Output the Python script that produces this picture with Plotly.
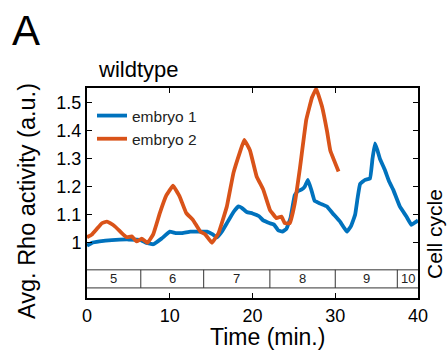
import plotly.graph_objects as go

# ---- data ----
t1 = [0, 0.6, 1.5, 3, 5, 6.5, 7.2, 8, 9, 10, 10.7, 11.5, 12.5, 13.7, 14.5, 15.2, 15.7, 16.3,
      16.9, 17.7, 18.3, 18.7, 19.3, 20, 20.8, 21.3, 22.1, 22.6, 23.1, 23.6, 24.1, 24.6, 25.1,
      25.5, 25.9, 26.3, 26.7, 27.1, 27.5, 28.2, 29, 29.7, 30.6, 31.4, 31.9, 32.4, 32.7, 33,
      33.6, 34.2, 34.5, 34.8, 35.1, 35.4, 36, 36.5, 37, 37.8, 38.6, 39.2, 39.5, 39.8, 40]
v1 = [0.99, 1.0, 1.005, 1.01, 1.012, 1.01, 1.0, 0.995, 1.015, 1.04, 1.035, 1.035, 1.04, 1.04,
      1.04, 1.03, 1.02, 1.04, 1.07, 1.11, 1.13, 1.125, 1.11, 1.105, 1.095, 1.08, 1.07, 1.065,
      1.045, 1.04, 1.05, 1.09, 1.17, 1.185, 1.19, 1.2, 1.225, 1.19, 1.15, 1.14, 1.13, 1.105,
      1.075, 1.04, 1.06, 1.1, 1.16, 1.21, 1.225, 1.23, 1.3, 1.355, 1.33, 1.30, 1.26, 1.22,
      1.19, 1.13, 1.094, 1.064, 1.07, 1.076, 1.08]

t2 = [0, 0.6, 1.2, 1.8, 2.4, 2.8, 3.4, 4.2, 4.8, 5.4, 6.0, 6.6, 7.3, 8.0, 8.8, 9.6, 10.4,
      11.2, 12.0, 12.8, 13.7, 14.3, 15.1, 15.9, 16.9, 17.7, 18.5, 19.0, 19.7, 20.5, 21.3,
      22.1, 22.9, 23.5, 23.9, 24.5, 25.1, 25.7, 26.5, 27.2, 27.7, 28.4, 29.0, 29.4, 30.4]
v2 = [1.02, 1.03, 1.05, 1.07, 1.076, 1.07, 1.058, 1.035, 1.02, 1.023, 1.005, 1.015, 1.0,
      1.03, 1.106, 1.17, 1.204, 1.165, 1.106, 1.082, 1.04, 1.03, 1.0, 1.035, 1.13, 1.25,
      1.326, 1.368, 1.33, 1.237, 1.19, 1.118, 1.088, 1.094, 1.07, 1.07, 1.14, 1.26, 1.44,
      1.52, 1.55, 1.487, 1.40, 1.33, 1.255]

series_names = ["embryo 1", "embryo 2"]
cycle_bounds = [0, 6.5, 14.1, 22.1, 30.0, 37.5, 40]
cycle_labels = ["5", "6", "7", "8", "9", "10"]
x_ticks = [0, 10, 20, 30, 40]
y_ticks = [1, 1.1, 1.2, 1.3, 1.4, 1.5]
y_ticktext = ["1", "1.1", "1.2", "1.3", "1.4", "1.5"]

BLUE = "#0072BD"
ORANGE = "#D95319"
FONT = "Liberation Sans, Arial, sans-serif"
band_top, band_bot = 0.9036, 0.839

fig = go.Figure()
fig.add_trace(go.Scatter(x=t1, y=v1, mode="lines", name=series_names[0],
                         line=dict(color=BLUE, width=3.8, shape="spline", smoothing=0.25)))
fig.add_trace(go.Scatter(x=t2, y=v2, mode="lines", name=series_names[1],
                         line=dict(color=ORANGE, width=3.8, shape="spline", smoothing=0.25)))

shapes = []
for yy in (band_top, band_bot):
    shapes.append(dict(type="line", xref="x", yref="y", x0=cycle_bounds[0], x1=cycle_bounds[-1],
                       y0=yy, y1=yy, line=dict(color="#333333", width=1)))
for b in cycle_bounds[1:-1]:
    shapes.append(dict(type="line", xref="x", yref="y", x0=b, x1=b, y0=band_bot, y1=band_top,
                       line=dict(color="#333333", width=1)))

annotations = []
for i, lab in enumerate(cycle_labels):
    annotations.append(dict(x=(cycle_bounds[i] + cycle_bounds[i + 1]) / 2,
                            y=(band_top + band_bot) / 2, xref="x", yref="y", text=lab,
                            showarrow=False, xanchor="center", yanchor="middle",
                            font=dict(size=13, color="#222", family=FONT)))

def px(x):
    return (x - 87) / 331

def py(y):
    return (298 - y) / 210

def lab(x, y, text, size, angle=0, xanchor="center"):
    return dict(x=px(x), y=py(y), xref="paper", yref="paper", text=text, showarrow=False,
                xanchor=xanchor, yanchor="middle", textangle=angle,
                font=dict(size=size, color="black", family=FONT))

annotations += [
    lab(26, 30, "A", 42),
    lab(96, 69, "wildtype", 22, xanchor="left"),
    lab(27, 201, "Avg. Rho activity (a.u.)", 23.5, angle=-90),
    lab(267, 337, "Time (min.)", 23),
    lab(434, 234, "Cell cycle", 21, angle=-90),
]

fig.update_layout(
    width=447, height=360,
    margin=dict(l=87, r=29, t=88, b=62),
    paper_bgcolor="white", plot_bgcolor="white",
    font=dict(family=FONT, color="black"),
    shapes=shapes, annotations=annotations,
    showlegend=True,
    legend=dict(x=px(92), y=py(99), xanchor="left", yanchor="top",
                bgcolor="rgba(0,0,0,0)", font=dict(size=15.5, color="#222"),
                itemwidth=30, tracegroupgap=0),
)
fig.update_xaxes(range=[0, 40], tickvals=x_ticks, ticks="inside", ticklen=5,
                 tickcolor="black", showline=True, linecolor="black", linewidth=2,
                 mirror="ticks", showgrid=False, zeroline=False,
                 tickfont=dict(size=18, color="black"))
fig.update_yaxes(range=[0.803, 1.553], tickvals=y_ticks, ticktext=y_ticktext,
                 ticks="inside", ticklen=5, tickcolor="black", showline=True,
                 linecolor="black", linewidth=2, mirror="ticks", showgrid=False,
                 zeroline=False, tickfont=dict(size=18, color="black"))

fig.write_html("out.html")
